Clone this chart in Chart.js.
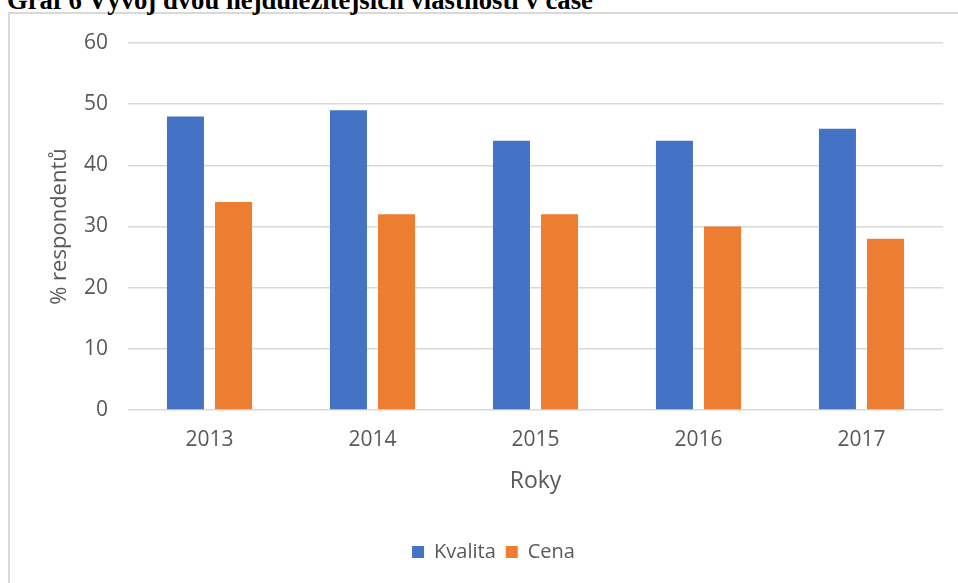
<!DOCTYPE html>
<html>
<head>
<meta charset="utf-8">
<script src="https://cdn.jsdelivr.net/npm/chart.js@4/dist/chart.umd.min.js"></script>
<style>
  html, body { margin: 0; padding: 0; background: #fff; overflow: hidden; }
  #wrap { position: relative; width: 958px; height: 583px; overflow: hidden; }
  #frame { position: absolute; left: 8px; top: 12px; width: 1200px; height: 1200px;
           border: 2px solid #d9d9d9; box-sizing: border-box; }
  #caption { position: absolute; left: 7px; top: -13px; margin: 0;
             font-family: "Liberation Serif", "Times New Roman", serif; font-weight: bold;
             font-size: 26.7px; line-height: 26.7px; color: #000; white-space: nowrap; }
  #c { position: absolute; left: 0; top: 0; }
</style>
</head>
<body>
<div id="wrap">
  <div id="frame"></div>
  <div id="caption">Graf 6 Vývoj dvou nejdůležitějších vlastností v čase</div>
  <canvas id="c" width="958" height="583"></canvas>
</div>
<script>
const years = ['2013', '2014', '2015', '2016', '2017'];
const kvalita = [48, 49, 44, 44, 46];
const cena = [34, 32, 32, 30, 28];
const yTicks = [0, 10, 20, 30, 40, 50, 60];

const textColor = '#595959';
const fontFam = '"Open Sans", "Noto Sans", sans-serif';

// shift the legend block to sit where the reference has it (centred on the frame)
const legendShift = {
  id: 'legendShift',
  afterLayout(chart) {
    const lg = chart.legend;
    if (!lg) return;
    lg.left += 22; lg.right += 22;
    lg.top += 2; lg.bottom += 2;
  }
};

new Chart(document.getElementById('c'), {
  type: 'bar',
  data: {
    labels: years,
    datasets: [
      { label: 'Kvalita', data: kvalita, backgroundColor: '#4472C4', borderWidth: 0,
        categoryPercentage: 0.59, barPercentage: 0.77 },
      { label: 'Cena', data: cena, backgroundColor: '#ED7D31', borderWidth: 0,
        categoryPercentage: 0.59, barPercentage: 0.77 }
    ]
  },
  plugins: [legendShift],
  options: {
    responsive: false,
    animation: false,
    layout: { padding: { left: 0, top: 43, right: 15, bottom: 13 } },
    plugins: {
      tooltip: { enabled: false },
      legend: {
        position: 'bottom',
        labels: {
          color: textColor,
          font: { family: fontFam, size: 20 },
          boxWidth: 12, boxHeight: 12, padding: 10
        }
      }
    },
    scales: {
      x: {
        grid: { display: false, drawTicks: false },
        border: { display: false },
        ticks: { color: textColor, font: { family: fontFam, size: 21 }, padding: 17 },
        title: { display: true, text: 'Roky', color: textColor,
                 font: { family: fontFam, size: 23 }, padding: { top: 0, bottom: 35 } },
        afterFit: (s) => { s.height = 120; }
      },
      y: {
        min: 0, max: 60,
        afterBuildTicks: (s) => { s.ticks = yTicks.map(v => ({ value: v })); },
        grid: { color: '#d9d9d9', lineWidth: 1.5, drawTicks: false },
        border: { display: false },
        ticks: { color: textColor, font: { family: fontFam, size: 21 }, padding: 20 },
        title: { display: true, text: '% respondentů', color: textColor,
                 font: { family: fontFam, size: 22 }, padding: { top: 47, bottom: 0 } },
        afterFit: (s) => { s.width = 128; }
      }
    }
  }
});
</script>
</body>
</html>
